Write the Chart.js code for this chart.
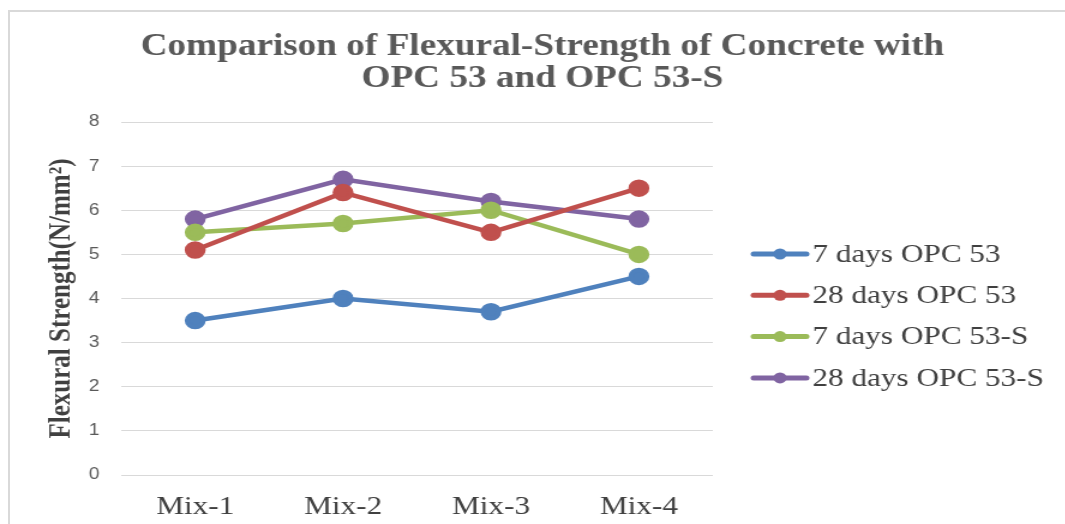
<!DOCTYPE html>
<html>
<head>
<meta charset="utf-8">
<script src="https://cdn.jsdelivr.net/npm/chart.js@4/dist/chart.umd.min.js"></script>
<style>
  body { margin: 0; background: #fff; overflow: hidden; }
  #frame {
    position: absolute; left: 8px; top: 10px; width: 1060px; height: 520px;
    border-left: 2px solid #d9d9d9; border-top: 2px solid #d9d9d9;
  }
  /* the source picture is stretched sideways, so the canvas is too */
  #heroChart {
    position: absolute; left: 0; top: 0;
    transform: scaleX(1.2); transform-origin: 0 0;
  }
</style>
</head>
<body>
<div id="frame"></div>
<canvas id="heroChart" width="888" height="524"></canvas>
<script>
const mixes = ["Mix-1", "Mix-2", "Mix-3", "Mix-4"];
const seriesNames = ["7 days OPC 53", "28 days OPC 53", "7 days OPC 53-S", "28 days OPC 53-S"];
const days7Opc53 = [3.5, 4.0, 3.7, 4.5];
const days28Opc53 = [5.1, 6.4, 5.5, 6.5];
const days7Opc53S = [5.5, 5.7, 6.0, 5.0];
const days28Opc53S = [5.8, 6.7, 6.2, 5.8];
const yTicks = [0, 1, 2, 3, 4, 5, 6, 7, 8];

const colors = ["#4f81bd", "#c0504d", "#9bbb59", "#8064a2"];
const serif = "'Liberation Serif', 'Times New Roman', serif";

function makeSet(i, values) {
    return {
        label: seriesNames[i],
        data: values,
        borderColor: colors[i],
        backgroundColor: colors[i],
        borderWidth: 4.5,
        pointRadius: 6.5,
        pointHoverRadius: 6.5,
        tension: 0
    };
}

// legend drawn by hand: line + dot, like the office chart
const sideLegend = {
    id: "sideLegend",
    afterDraw(chart) {
        const ctx = chart.ctx;
        const x0 = chart.chartArea.right + 34;
        ctx.save();
        ctx.font = "26px " + serif;
        ctx.textBaseline = "middle";
        chart.data.datasets.forEach((ds, i) => {
            const y = 254 + i * 41.3;
            ctx.strokeStyle = ds.borderColor;
            ctx.lineWidth = 5;
            ctx.lineCap = "round";
            ctx.beginPath();
            ctx.moveTo(x0, y);
            ctx.lineTo(x0 + 44, y);
            ctx.stroke();
            ctx.fillStyle = ds.borderColor;
            ctx.beginPath();
            ctx.arc(x0 + 22, y, 5.5, 0, Math.PI * 2);
            ctx.fill();
            ctx.fillStyle = "#404040";
            ctx.fillText(ds.label, x0 + 49, y + 1);
        });
        ctx.restore();
    }
};

function drawChart() {
    const ctx = document.getElementById("heroChart").getContext("2d");
    new Chart(ctx, {
        type: "line",
        data: {
            labels: mixes,
            datasets: [
                makeSet(0, days7Opc53),
                makeSet(1, days28Opc53),
                makeSet(2, days7Opc53S),
                makeSet(3, days28Opc53S)
            ]
        },
        options: {
            responsive: false,
            animation: false,
            layout: { padding: { left: 16, right: 0, top: 0, bottom: 0 } },
            plugins: {
                legend: { display: false },
                tooltip: { enabled: false },
                title: {
                    display: true,
                    text: ["Comparison of Flexural-Strength of Concrete with", "OPC 53 and OPC 53-S"],
                    color: "#595959",
                    font: { family: serif, size: 31, weight: "bold", lineHeight: "32px" },
                    padding: { top: 31, bottom: 27 }
                }
            },
            scales: {
                x: {
                    offset: true,
                    grid: { display: false },
                    border: { display: false },
                    ticks: {
                        color: "#404040",
                        padding: 9,
                        font: { family: serif, size: 26 }
                    },
                    afterFit(axis) { axis.height = 49; }
                },
                y: {
                    min: 0,
                    max: 8,
                    afterBuildTicks(axis) { axis.ticks = yTicks.map(v => ({ value: v })); },
                    grid: { color: "#d9d9d9", lineWidth: 1, drawTicks: false },
                    border: { display: false },
                    ticks: {
                        color: "#595959",
                        padding: 18,
                        font: { family: "'Liberation Sans', Arial, sans-serif", size: 16 }
                    },
                    title: {
                        display: true,
                        text: "Flexural Strength(N/mm²)",
                        color: "#404040",
                        font: { family: serif, size: 25, weight: "bold" },
                        padding: { top: 21, bottom: 0 }
                    },
                    afterFit(axis) { axis.width = 85; }
                },
                // empty right-hand axis that only keeps room for the legend
                legendRoom: {
                    type: "linear",
                    position: "right",
                    grid: { display: false },
                    border: { display: false },
                    ticks: { display: false },
                    afterFit(axis) { axis.width = 294; }
                }
            }
        },
        plugins: [sideLegend]
    });
}

window.onload = drawChart;
</script>
</body>
</html>
